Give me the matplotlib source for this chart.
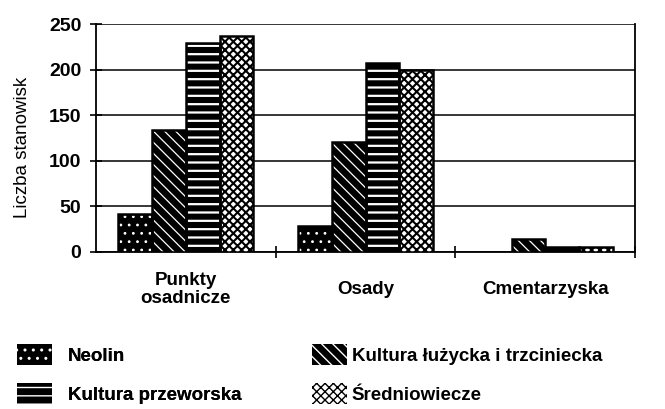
import numpy as np
import matplotlib
matplotlib.use("Agg")
import matplotlib.pyplot as plt
from matplotlib.patches import Patch

# dane
categories = ["Punkty\nosadnicze", "Osady", "Cmentarzyska"]
series_names = ["Neolin", "Kultura łużycka i trzciniecka",
                "Kultura przeworska", "Średniowiecze"]
neolin = [42, 28, 0]
luzycka = [134, 121, 14]
przeworska = [229, 207, 6]
sredniowiecze = [237, 200, 5]
y_ticks = [0, 50, 100, 150, 200, 250]

plt.rcParams["font.family"] = ["Liberation Sans", "DejaVu Sans"]

# (wypełnienie, kolor kreskowania, wzór, grubość kreskowania)
styles = [
    ("black", "white", "..", 0.8),
    ("black", "white", "\\\\\\", 0.9),
    ("black", "white", "--", 1.6),
    ("white", "black", "xxxx", 1.5),
]


def hatched(fc, hc, hatch, lw):
    with plt.rc_context({"hatch.linewidth": lw}):
        p = Patch(facecolor=fc, edgecolor=hc, hatch=hatch, linewidth=0)
    if hasattr(p, "set_hatch_linewidth"):
        p.set_hatch_linewidth(lw)
    return p


fig = plt.figure(figsize=(6.65, 4.09), dpi=100)
ax = fig.add_axes([0.1444, 0.3839, 0.8106, 0.5574])

x = np.arange(len(categories))
width = 0.1875
values = [neolin, luzycka, przeworska, sredniowiecze]

for i, (vals, (fc, hc, hatch, hlw)) in enumerate(zip(values, styles)):
    pos = x + (i - 1.5) * width
    with plt.rc_context({"hatch.linewidth": hlw}):
        bars = ax.bar(pos, vals, width, color=fc, edgecolor=hc, hatch=hatch,
                      linewidth=0, zorder=3)
    for b in bars:
        if hasattr(b, "set_hatch_linewidth"):
            b.set_hatch_linewidth(hlw)
    # czarna ramka słupka
    ax.bar(pos, vals, width, fill=False, edgecolor="black", linewidth=1.8, zorder=4)

ax.set_xlim(-0.5, 2.5)
ax.set_ylim(0, 250)
ax.set_yticks(y_ticks)
ax.set_yticklabels([str(t) for t in y_ticks], fontsize=14, fontweight="bold")
ax.grid(True, axis="y", color="black", linewidth=1.1, zorder=0)
ax.set_axisbelow(True)

ax.set_xticks(x)
ax.set_xticklabels(categories, fontsize=13.5, fontweight="bold",
                   va="center", linespacing=1.05)
ax.set_xticks([0.5, 1.5, 2.5], minor=True)
ax.tick_params(axis="x", which="major", length=0, pad=27)
ax.tick_params(axis="x", which="minor", direction="inout", length=9, width=1.2)
ax.tick_params(axis="y", direction="inout", length=9, width=1.2, pad=6)

for side in ["left", "bottom", "right"]:
    ax.spines[side].set_linewidth(1.3)
ax.spines["top"].set_visible(False)

ax.set_ylabel("Liczba stanowisk", fontsize=13.5)
ax.yaxis.set_label_coords(-0.12, 0.46)

# legenda: dwie kolumny, każda osobno
hs = [hatched(*s) for s in styles]
common = dict(loc="upper left", frameon=False,
              prop={"weight": "bold", "size": 13.5},
              handlelength=1.87, handleheight=1.33, labelspacing=0.98,
              borderpad=0, borderaxespad=0)
leg1 = fig.legend([hs[0], hs[2]], [series_names[0], series_names[2]],
                  bbox_to_anchor=(17 / 665, 1 - 344 / 409),
                  handletextpad=0.85, **common)
fig.add_artist(leg1)
fig.legend([hs[1], hs[3]], [series_names[1], series_names[3]],
           bbox_to_anchor=(312 / 665, 1 - 344 / 409),
           handletextpad=0.25, **common)

plt.savefig("out.png", dpi=100)
